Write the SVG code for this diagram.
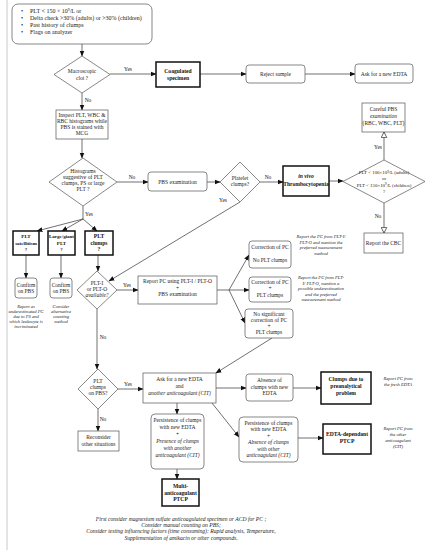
<svg xmlns="http://www.w3.org/2000/svg" width="432" height="550" viewBox="0 0 432 550">
<style>
text{font-family:"Liberation Serif","DejaVu Serif",serif;font-size:5.5px;fill:#222;text-anchor:middle}
.l{text-anchor:start;font-size:6px}
.b{font-weight:bold;font-size:5.6px;fill:#111}
.sb{font-size:5px}
.i{font-style:italic}
.s{font-size:4.6px}
.d4{font-size:4.9px}
.f{font-size:5.6px}
.rb{fill:#fff;stroke:#555;stroke-width:0.7}
.sq{fill:#fff;stroke:#555;stroke-width:0.7}
.bb{fill:#fff;stroke:#111;stroke-width:1.5}
.dm{fill:#fff;stroke:#555;stroke-width:0.7}
.c line,.c polyline{stroke:#333;stroke-width:0.7;fill:none}
.a{marker-end:url(#ar)}
.h{marker-end:url(#ho)}
</style>
<defs>
<marker id="ar" viewBox="0 0 10 10" refX="9" refY="5" markerWidth="6" markerHeight="6" markerUnits="userSpaceOnUse" orient="auto"><path d="M0,1 L10,5 L0,9 z" fill="#111"/></marker>
<marker id="ho" viewBox="0 0 10 10" refX="9" refY="5" markerWidth="7" markerHeight="7" markerUnits="userSpaceOnUse" orient="auto"><path d="M1,1 L9,5 L1,9 z" fill="#fff" stroke="#444" stroke-width="1.2"/></marker>
</defs>
<rect width="432" height="550" fill="#fff"/>
<line x1="7" y1="0" x2="7" y2="550" stroke="#bbb" stroke-width="0.8"/>

<g class="c">
<line class="a" x1="82" y1="44" x2="82" y2="56"/>
<line class="a" x1="110" y1="74" x2="156" y2="74"/>
<line class="a" x1="200" y1="74" x2="246" y2="74"/>
<line class="a" x1="305" y1="74" x2="355" y2="74"/>
<line class="a" x1="82" y1="93" x2="82" y2="110"/>
<line class="a" x1="82" y1="139" x2="82" y2="158"/>
<line class="a" x1="117" y1="182" x2="148" y2="182"/>
<line class="a" x1="207" y1="182" x2="220" y2="182"/>
<line class="a" x1="260" y1="182" x2="283" y2="182"/>
<line class="a" x1="329" y1="181" x2="343" y2="181"/>
<line class="h" x1="384" y1="160" x2="384" y2="132"/>
<line class="h" x1="384" y1="203" x2="384" y2="233"/>
<line x1="83" y1="206" x2="83" y2="219"/>
<line class="a" x1="83" y1="219" x2="37" y2="231"/>
<line class="a" x1="83" y1="219" x2="62" y2="231"/>
<line class="a" x1="83" y1="219" x2="97" y2="231"/>
<line class="a" x1="26" y1="255" x2="26" y2="278"/>
<line class="a" x1="61" y1="255" x2="61" y2="278"/>
<line class="a" x1="98" y1="255" x2="98" y2="271"/>
<line class="a" x1="240" y1="202" x2="109" y2="281"/>
<line class="a" x1="117" y1="290" x2="138" y2="290"/>
<line x1="217" y1="290" x2="229" y2="290"/>
<line class="a" x1="229" y1="290" x2="249" y2="255"/>
<line class="a" x1="229" y1="290" x2="249" y2="290"/>
<line class="a" x1="229" y1="290" x2="245" y2="323"/>
<line class="a" x1="97" y1="309" x2="97" y2="369"/>
<line class="a" x1="118" y1="389" x2="143" y2="389"/>
<line class="a" x1="98" y1="409" x2="98" y2="431"/>
<line class="a" x1="272" y1="338" x2="216" y2="373"/>
<line class="a" x1="216" y1="388" x2="246" y2="388"/>
<line class="a" x1="293" y1="388" x2="321" y2="388"/>
<line class="a" x1="177" y1="403" x2="177" y2="414"/>
<line class="a" x1="212" y1="403" x2="239" y2="437"/>
<line class="a" x1="298" y1="438" x2="323" y2="438"/>
<line class="a" x1="177" y1="469" x2="177" y2="479"/>
</g>

<g id="labels">
<text x="128" y="71">Yes</text>
<text x="88" y="102">No</text>
<text x="132" y="179">No</text>
<text x="268" y="179">No</text>
<text x="378" y="149">Yes</text>
<text x="378" y="218">No</text>
<text x="89" y="216">Yes</text>
<text x="223" y="202">Yes</text>
<text x="127" y="287">Yes</text>
<text x="103" y="339">No</text>
<text x="128" y="386">Yes</text>
<text x="103" y="421">No</text>
</g>

<g id="start">
<rect class="rb" x="12" y="4" width="140" height="40" rx="6"/>
<text class="l" x="21" y="13">•</text><text class="l" x="30" y="13">PLT &lt; 150 × 10<tspan dy="-1.6" font-size="3.8">9</tspan><tspan dy="1.6">/L or</tspan></text>
<text class="l" x="21" y="20">•</text><text class="l" x="30" y="20">Delta check &gt;30% (adults) or &gt;30% (children)</text>
<text class="l" x="21" y="27">•</text><text class="l" x="30" y="27">Past history of clumps</text>
<text class="l" x="21" y="34">•</text><text class="l" x="30" y="34">Flags on analyzer</text>
</g>

<g id="clot">
<polygon class="dm" points="82,56 110,74.5 82,93 54,74.5"/>
<text x="82" y="73">Macroscopic</text><text x="82" y="79.5">clot ?</text>
</g>
<g id="coag">
<rect class="bb" x="156" y="62" width="44" height="25"/>
<text class="b" x="178" y="72.5">Coagulated</text><text class="b" x="178" y="79.5">specimen</text>
</g>
<g id="reject">
<rect class="rb" x="246" y="65" width="59" height="18" rx="3"/>
<text x="275.5" y="75.8">Reject sample</text>
</g>
<g id="askedta">
<rect class="rb" x="355" y="64" width="58" height="19" rx="3"/>
<text x="384" y="75.5">Ask for a new EDTA</text>
</g>
<g id="inspect">
<rect class="sq" x="56" y="110" width="52" height="29"/>
<text x="82" y="117">Inspect PLT, WBC &amp;</text>
<text x="82" y="123">RBC histograms while</text>
<text x="82" y="129">PBS is stained with</text>
<text x="82" y="135">MCG</text>
</g>
<g id="histo">
<polygon class="dm" points="83,158 117,182 83,206 49,182"/>
<text x="83" y="173">Histograms</text>
<text x="83" y="179">suggestive of PLT</text>
<text x="83" y="185">clumps, PS or large</text>
<text x="83" y="191">PLT ?</text>
</g>
<g id="pbs">
<rect class="rb" x="148" y="172" width="59" height="19" rx="3"/>
<text x="177.5" y="183.5">PBS examination</text>
</g>
<g id="pltclumpsq">
<polygon class="dm" points="240,162 260,182 240,202 220,182"/>
<text x="240" y="180">Platelet</text><text x="240" y="186">clumps?</text>
</g>
<g id="invivo">
<rect class="bb" x="283" y="166" width="46" height="30"/>
<text class="b" x="306" y="178"><tspan font-style="italic">in vivo</tspan></text>
<text class="b" x="306" y="185.5">Thrombocytopenia</text>
</g>
<g id="pltlimit">
<polygon class="dm" points="384,160 425,181.5 384,203 343,181.5"/>
<text class="d4" x="384" y="174">PLT &lt; 100×10<tspan dy="-1.3" font-size="3.2">9</tspan><tspan dy="1.3">/L (adults)</tspan></text>
<text class="d4" x="384" y="180">or</text>
<text class="d4" x="384" y="186.5">PLT &lt; 150×10<tspan dy="-1.3" font-size="3.2">9</tspan><tspan dy="1.3">/L (children)</tspan></text>
<text class="d4" x="384" y="193">?</text>
</g>
<g id="careful">
<rect class="sq" x="362" y="103" width="43" height="29"/>
<text x="383.5" y="111">Careful PBS</text>
<text class="i" x="383.5" y="118">examination</text>
<text x="383.5" y="125" font-size="5">(RBC, WBC, PLT)</text>
</g>
<g id="cbc">
<rect class="sq" x="364" y="233" width="39" height="20"/>
<text x="383.5" y="244.5">Report the CBC</text>
</g>
<g id="sat">
<rect class="bb" x="13" y="231" width="26" height="24"/>
<text class="b sb" x="26" y="238">PLT</text><text class="b sb" x="26" y="244.5">satellitism</text><text class="b sb" x="26" y="251">?</text>
</g>
<g id="giant">
<rect class="bb" x="48" y="231" width="27" height="24"/>
<text class="b sb" x="61.5" y="238">Large/giant</text><text class="b sb" x="61.5" y="244.5">PLT</text><text class="b sb" x="61.5" y="251">?</text>
</g>
<g id="clumpbox">
<rect class="bb" x="85" y="231" width="28" height="24"/>
<text class="b" x="99" y="238">PLT</text><text class="b" x="99" y="244.5">clumps</text><text class="b" x="99" y="251">?</text>
</g>
<g id="confirm1">
<rect class="rb" x="15" y="278" width="22" height="20" rx="3"/>
<text x="26" y="286.5">Confirm</text><text x="26" y="293">on PBS</text>
</g>
<g id="note1">
<text class="i s" x="26" y="308">Report as</text>
<text class="i s" x="26" y="313">underestimated PC</text>
<text class="i s" x="26" y="318">due to PS and</text>
<text class="i s" x="26" y="323">which leukocyte is</text>
<text class="i s" x="26" y="328">incriminated</text>
</g>
<g id="confirm2">
<rect class="rb" x="50" y="278" width="22" height="20" rx="3"/>
<text x="61" y="286.5">Confirm</text><text x="61" y="293">on PBS</text>
</g>
<g id="note2">
<text class="i s" x="61" y="308">Consider</text>
<text class="i s" x="61" y="313">alternative</text>
<text class="i s" x="61" y="318">counting</text>
<text class="i s" x="61" y="323">method</text>
</g>
<g id="pltio">
<polygon class="dm" points="97,271 117,290 97,309 77,290"/>
<text x="97" y="284.5">PLT-I</text><text x="97" y="290.5">or PLT-O</text><text class="i" x="97" y="296.5">available?</text>
</g>
<g id="reportpc">
<rect class="sq" x="138" y="276" width="79" height="28"/>
<text x="177.5" y="283">Report PC using PLT-I / PLT-O</text>
<text x="177.5" y="289.5">+</text>
<text x="177.5" y="296">PBS examination</text>
</g>
<g id="corrA">
<rect class="rb" x="249" y="241" width="42" height="27" rx="3"/>
<text x="270" y="248.5">Correction of PC</text>
<text x="270" y="261.5">No PLT clumps</text>
</g>
<g id="noteA">
<text class="i s" x="321" y="238">Report the PC from PLT-I/</text>
<text class="i s" x="321" y="243.5">PLT-O and mention the</text>
<text class="i s" x="321" y="249">preferred measurement</text>
<text class="i s" x="321" y="254.5">method</text>
</g>
<g id="corrB">
<rect class="rb" x="249" y="277" width="42" height="25" rx="3"/>
<text x="270" y="283.5">Correction of PC</text>
<text x="270" y="289.5">+</text>
<text x="270" y="296.5">PLT clumps</text>
</g>
<g id="noteB">
<text class="i s" x="321" y="279">Report the PC from PLT-</text>
<text class="i s" x="321" y="284.5">I/ PLT-O, mention a</text>
<text class="i s" x="321" y="290">possible underestimation</text>
<text class="i s" x="321" y="295.5">and the preferred</text>
<text class="i s" x="321" y="301">measurement method</text>
</g>
<g id="corrC">
<rect class="rb" x="245" y="309" width="48" height="29" rx="3"/>
<text x="269" y="315.5">No significant</text>
<text x="269" y="321.5">correction of PC</text>
<text x="269" y="327.5">+</text>
<text x="269" y="334">PLT clumps</text>
</g>
<g id="pbsclumps">
<polygon class="dm" points="98,369 118,389 98,409 78,389"/>
<text x="98" y="383">PLT</text><text x="98" y="389">clumps</text><text x="98" y="395">on PBS?</text>
</g>
<g id="reconsider">
<rect class="sq" x="78" y="431" width="41" height="20"/>
<text x="98.5" y="439">Reconsider</text><text x="98.5" y="446">other situations</text>
</g>
<g id="asknew">
<rect class="sq" x="143" y="373" width="73" height="30"/>
<text x="179.5" y="381">Ask for a new EDTA</text>
<text x="179.5" y="388">and</text>
<text class="i" x="179.5" y="395">another anticoagulant (CIT)</text>
</g>
<g id="absence">
<rect class="rb" x="246" y="374" width="47" height="27" rx="3"/>
<text x="269.5" y="382">Absence of</text><text x="269.5" y="388.5">clumps with new</text><text x="269.5" y="395">EDTA</text>
</g>
<g id="preanal">
<rect class="bb" x="321" y="372" width="50" height="32"/>
<text class="b" x="346" y="381">Clumps due to</text><text class="b" x="346" y="388">preanalytical</text><text class="b" x="346" y="395">problem</text>
</g>
<g id="notePre">
<text class="i s" x="398" y="380">Report PC from</text>
<text class="i s" x="398" y="386">the fresh EDTA</text>
</g>
<g id="persistL">
<rect class="rb" x="151" y="414" width="53" height="55" rx="4"/>
<text x="177.5" y="422">Persistence of clumps</text>
<text x="177.5" y="429">with new EDTA</text>
<text x="177.5" y="436">+</text>
<text class="i" x="177.5" y="443">Presence of clumps</text>
<text class="i" x="177.5" y="450">with another</text>
<text class="i" x="177.5" y="457">anticoagulant (CIT)</text>
</g>
<g id="persistR">
<rect class="rb" x="239" y="417" width="59" height="45" rx="4"/>
<text x="268.5" y="424.5">Persistence of clumps</text>
<text x="268.5" y="431">with new EDTA</text>
<text x="268.5" y="437.5">+</text>
<text class="i" x="268.5" y="444">Absence of clumps</text>
<text class="i" x="268.5" y="450.5">with other</text>
<text class="i" x="268.5" y="457">anticoagulant (CIT)</text>
</g>
<g id="edtadep">
<rect class="bb" x="323" y="424" width="48" height="30"/>
<text class="b" x="347" y="436">EDTA-dependant</text><text class="b" x="347" y="443">PTCP</text>
</g>
<g id="noteEdta">
<text class="i s" x="398" y="430">Report PC from</text>
<text class="i s" x="398" y="436">the other</text>
<text class="i s" x="398" y="442">anticoagulant</text>
<text class="i s" x="398" y="448">(CIT)</text>
</g>
<g id="multi">
<rect class="bb" x="162" y="479" width="37" height="27"/>
<text class="b" x="180.5" y="488">Multi-</text><text class="b" x="180.5" y="494.5">anticoagulant</text><text class="b" x="180.5" y="501">PTCP</text>
</g>
<g id="footer">
<text class="i f" x="181" y="521">First consider magnesium sulfate anticoagulated specimen or ACD for PC ;</text>
<text class="i f" x="181" y="527">Consider manual counting on PBS;</text>
<text class="i f" x="181" y="533">Consider testing influencing factors (time consuming): Rapid analysis, Temperature,</text>
<text class="i f" x="181" y="539.5">Supplementation of amikacin or other compounds.</text>
</g>
</svg>
